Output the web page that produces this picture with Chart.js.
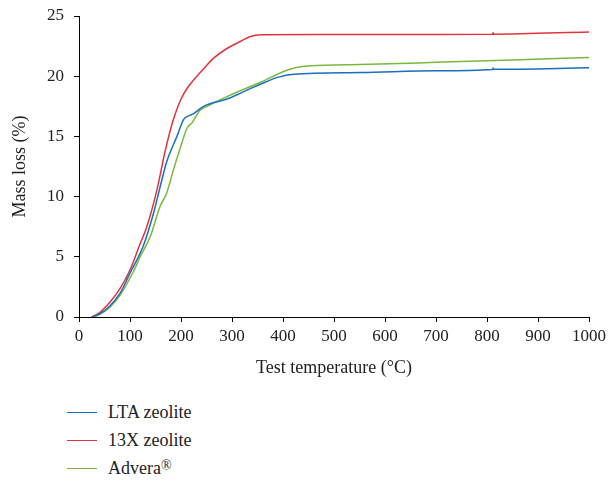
<!DOCTYPE html>
<html>
<head>
<meta charset="utf-8">
<script src="https://cdn.jsdelivr.net/npm/chart.js@4"></script>
<style>
  html, body { margin: 0; padding: 0; background: #fff; }
  #wrap { position: relative; width: 610px; height: 383px; }
  #legend { margin: 15px 0 0 67px; font-family: 'Liberation Serif', serif; font-size: 18px; color: #222; }
  #legend div { height: 28px; line-height: 28px; display: flex; align-items: center; }
  #legend span.sw { display: inline-block; width: 30px; height: 0; border-top: 1.5px solid; margin-right: 11px; }
  #legend sup { font-size: 14px; line-height: 0; position: relative; top: -2px; }
</style>
</head>
<body>
<div id="wrap"><canvas id="chart" width="610" height="383"></canvas></div>
<div id="legend"></div>
<script>
// temperatures (°C) and mass loss (%)
const ltaTemp = [25, 40, 60, 81, 100, 126, 146, 159, 172, 192, 205, 215, 225, 244, 290, 315, 340, 365, 389, 421, 552, 700, 811, 812, 813, 1000];
const ltaLoss = [0, 0.25, 0.9, 2.0, 3.65, 5.9, 8.6, 10.8, 12.9, 15.0, 16.4, 16.7, 16.9, 17.5, 18.1, 18.55, 19.05, 19.5, 19.9, 20.17, 20.3, 20.45, 20.56, 20.68, 20.57, 20.7];

const x13Temp = [25, 40, 60, 81, 100, 120, 133, 153, 169, 185, 199, 212, 225, 244, 264, 290, 317, 336, 356, 500, 700, 811, 812, 813, 1000];
const x13Loss = [0, 0.35, 1.2, 2.4, 3.9, 6.1, 7.5, 10.6, 13.8, 16.4, 18.0, 19.0, 19.7, 20.6, 21.5, 22.3, 22.9, 23.3, 23.45, 23.47, 23.47, 23.48, 23.6, 23.49, 23.68];

const advTemp = [28, 40, 60, 81, 107, 120, 140, 159, 172, 185, 199, 212, 221, 238, 251, 290, 356, 415, 454, 552, 700, 850, 1000];
const advLoss = [0, 0.2, 0.8, 1.85, 3.8, 5.0, 6.7, 9.2, 10.3, 12.2, 14.1, 15.7, 16.1, 17.2, 17.5, 18.3, 19.5, 20.6, 20.86, 20.97, 21.15, 21.35, 21.56];

const seriesNames = ['LTA zeolite', '13X zeolite', 'Advera'];
const seriesColors = ['#1a6fbe', '#e2333b', '#7bb83d'];
const xTicks = [0, 100, 200, 300, 400, 500, 600, 700, 800, 900, 1000];
const yTicks = [0, 5, 10, 15, 20, 25];

const pairs = (t, v) => t.map((x, i) => ({ x, y: v[i] }));
const allData = [pairs(ltaTemp, ltaLoss), pairs(x13Temp, x13Loss), pairs(advTemp, advLoss)];

const serif = 'Liberation Serif';
const CANVAS_H = 383;

const chart = new Chart(document.getElementById('chart'), {
  type: 'line',
  data: {
    datasets: allData.map((d, i) => ({
      label: seriesNames[i],
      data: d,
      borderColor: seriesColors[i],
      backgroundColor: seriesColors[i],
      borderWidth: 1.5,
      pointRadius: 0,
      cubicInterpolationMode: 'monotone',
    }))
  },
  options: {
    responsive: false,
    animation: false,
    layout: { padding: { top: 16, right: 21, left: 0, bottom: 0 } },
    plugins: { legend: { display: false }, tooltip: { enabled: false } },
    scales: {
      x: {
        type: 'linear', min: 0, max: 1000,
        afterBuildTicks: s => { s.ticks = xTicks.map(v => ({ value: v })); },
        afterFit: s => { s.height = CANVAS_H - 317; },
        ticks: { color: '#222', padding: 4, font: { family: serif, size: 17 }, maxRotation: 0, callback: v => String(v) },
        grid: { drawOnChartArea: false, color: '#000', tickLength: 5, tickColor: '#000' },
        border: { color: '#000', width: 1 },
        title: { display: true, text: 'Test temperature (°C)', color: '#222', font: { family: serif, size: 18 }, padding: { top: 2, bottom: 4 } },
      },
      y: {
        min: 0, max: 25,
        afterBuildTicks: s => { s.ticks = yTicks.map(v => ({ value: v })); },
        afterFit: s => { s.width = 79; s.paddingTop = 0; },
        ticks: { color: '#222', padding: 10, font: { family: serif, size: 17 } },
        grid: { drawOnChartArea: false, color: '#000', tickLength: 5, tickColor: '#000' },
        border: { color: '#000', width: 1 },
        title: { display: true, text: 'Mass loss (%)', color: '#222', font: { family: serif, size: 18 }, padding: { top: 9, bottom: 0 } },
      }
    }
  }
});

// legend stacked under the plot
const legend = document.getElementById('legend');
chart.data.datasets.forEach((ds, i) => {
  const row = document.createElement('div');
  row.innerHTML = '<span class="sw" style="border-color:' + ds.borderColor + '"></span>' +
    ds.label + (i === 2 ? '<sup>®</sup>' : '');
  legend.appendChild(row);
});
</script>
</body>
</html>
